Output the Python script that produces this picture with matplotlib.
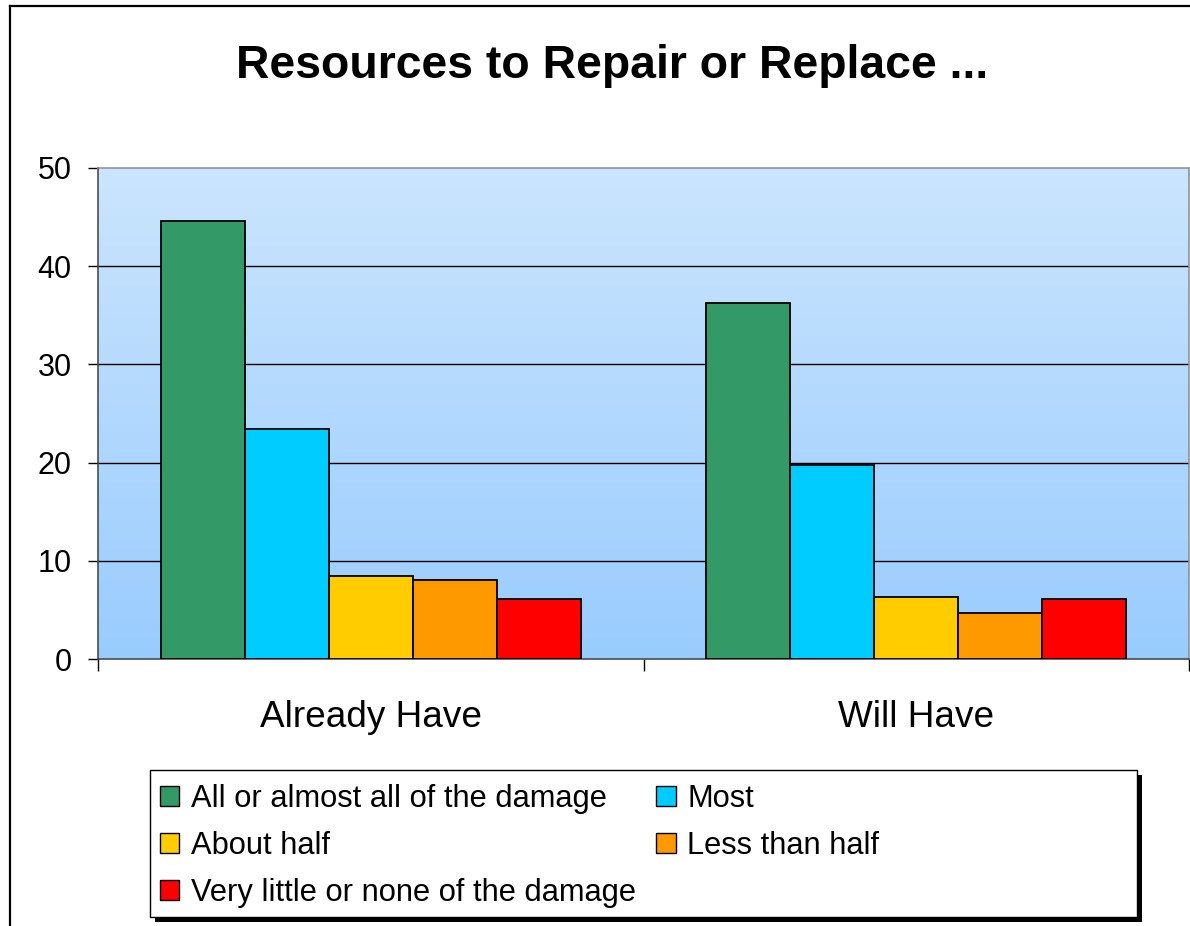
import matplotlib.pyplot as plt
import numpy as np
from matplotlib.colors import LinearSegmentedColormap
from matplotlib.lines import Line2D
from matplotlib.patches import Patch, Rectangle


categories = ["Already Have", "Will Have"]
series_names = [
    "All or almost all of the damage",
    "Most",
    "About half",
    "Less than half",
    "Very little or none of the damage",
]
all_or_almost = [44.6, 36.2]
most = [23.4, 19.8]
about_half = [8.5, 6.3]
less_than_half = [8.1, 4.7]
very_little = [6.1, 6.1]
y_ticks = [0, 10, 20, 30, 40, 50]

colors = ["#339966", "#00ccff", "#ffcc00", "#ff9900", "#ff0000"]
FONT = "Liberation Sans"
W, H = 1190, 926


def fx(px):
    return px / W


def fy(py):
    return 1 - py / H


def main():
    plt.rcParams["font.family"] = [FONT, "DejaVu Sans"]
    fig = plt.figure(figsize=(W / 100, H / 100), dpi=100)
    fig.patch.set_facecolor("white")

    # outer chart frame (runs off the right and bottom edges)
    fig.add_artist(Line2D([fx(10), fx(10)], [fy(6), 0], color="black", lw=1.6))
    fig.add_artist(Line2D([fx(10), 1], [fy(6), fy(6)], color="black", lw=1.6))

    fig.text(fx(612), fy(66), "Resources to Repair or Replace ...", ha="center", va="center",
             fontsize=33.4, weight="bold", color="black")

    ax = fig.add_axes([fx(98), fy(659.3), fx(1189) - fx(98), fy(167.8) - fy(659.3)])
    cmap = LinearSegmentedColormap.from_list("bg", ["#99ccff", "#cbe5fd"])
    grad = np.linspace(0, 1, 256).reshape(-1, 1)
    ax.imshow(grad, extent=(-0.5, 1.5, 0, 50), origin="lower", cmap=cmap,
              aspect="auto", zorder=0, interpolation="bicubic")

    values = [all_or_almost, most, about_half, less_than_half, very_little]
    x = np.arange(len(categories))
    width = 0.154
    for i, (vals, col) in enumerate(zip(values, colors)):
        ax.bar(x + (i - 2) * width, vals, width, color=col, edgecolor="black",
               linewidth=1.3, zorder=3)

    for yv in y_ticks[1:-1]:
        ax.axhline(yv, color="black", lw=1.0, zorder=1)

    ax.set_xlim(-0.5, 1.5)
    ax.set_ylim(0, 50)
    ax.set_yticks(y_ticks)
    ax.set_xticks(x)
    ax.set_xticklabels(categories, fontsize=26.6)
    ax.set_xticks([-0.5, 0.5, 1.5], minor=True)
    ax.tick_params(axis="x", which="major", length=0, pad=29)
    ax.tick_params(axis="x", which="minor", length=8.6, width=1, direction="out")
    ax.tick_params(axis="y", labelsize=22, length=7, width=1, pad=12, direction="out")

    for side in ["left", "bottom"]:
        ax.spines[side].set_color("#404040")
        ax.spines[side].set_linewidth(1.1)
    for side in ["top", "right"]:
        ax.spines[side].set_color("#8c8c8c")
        ax.spines[side].set_linewidth(1.1)

    # legend box with drop shadow
    fig.add_artist(Rectangle((fx(155), fy(922)), fx(987), 147 / H, facecolor="black",
                             edgecolor="none", zorder=1))
    fig.add_artist(Rectangle((fx(150), fy(916.5)), fx(987), 147 / H, facecolor="white",
                             edgecolor="black", lw=1.0, zorder=2))

    handles = [Patch(facecolor=c, edgecolor="black", linewidth=1.0) for c in colors]
    order = [0, 2, 4, 1, 3]
    leg = fig.legend([handles[i] for i in order], [series_names[i] for i in order],
                     loc="upper left", bbox_to_anchor=(fx(160), fy(784)),
                     bbox_transform=fig.transFigure, ncol=2, frameon=False,
                     fontsize=22.2, handlelength=0.62, handleheight=0.62,
                     handletextpad=0.38, labelspacing=0.55, columnspacing=0.67,
                     borderpad=0, borderaxespad=0)
    leg.set_zorder(3)

    fig.savefig("out.png", dpi=100)
    plt.close(fig)


if __name__ == "__main__":
    main()
